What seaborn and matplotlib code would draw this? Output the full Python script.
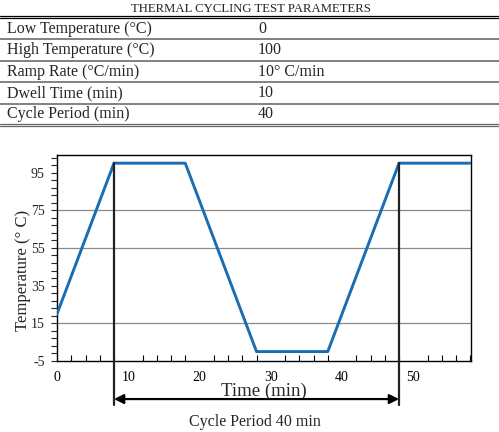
import numpy as np
import pandas as pd
import seaborn as sns
import matplotlib.pyplot as plt
from matplotlib.lines import Line2D
from matplotlib.ticker import MultipleLocator, FixedLocator

# table values
table_title = "THERMAL CYCLING TEST PARAMETERS"
param_names = ["Low Temperature (°C)", "High Temperature (°C)", "Ramp Rate (°C/min)",
               "Dwell Time (min)", "Cycle Period (min)"]
param_values = ["0", "100", "10° C/min", "10", "40"]

# temperature profile
time_min = [0, 8, 18, 28, 38, 48, 58]
temp_c = [20, 100, 100, 0, 0, 100, 100]
y_ticks = [-5, 15, 35, 55, 75, 95]
grid_levels = [15, 55, 75]
cycle_start, cycle_end = 8, 48

sns.set_style("ticks")
plt.rcParams['font.family'] = ['Liberation Serif', 'DejaVu Serif']
plt.rcParams['axes.unicode_minus'] = False

fig = plt.figure(figsize=(4.99, 4.32), dpi=100)
W, H = 499, 432

def fy(py):
    return 1 - py / H

# --- table on top ---
fig.text(251 / W, fy(9), table_title, ha='center', va='center', fontsize=9.2)
for py in [15.5, 18]:
    fig.add_artist(Line2D([0, 1], [fy(py), fy(py)], color='black', lw=0.9))
row_h = 21.4
for i, (name, val) in enumerate(zip(param_names, param_values)):
    yc = 18 + row_h * (i + 0.5)
    fig.text(7 / W, fy(yc), name, ha='left', va='center', fontsize=11.5)
    fig.text(258 / W, fy(yc), val, ha='left', va='center', fontsize=11.5)
    if i < len(param_names) - 1:
        yl = 18 + row_h * (i + 1)
        fig.add_artist(Line2D([0, 1], [fy(yl), fy(yl)], color='#777777', lw=1.3))
for py in [123.5, 125.5]:
    fig.add_artist(Line2D([0, 1], [fy(py), fy(py)], color='#666666', lw=0.9))

# --- chart ---
ax = fig.add_axes([57 / W, 71 / H, 414 / W, 206.3 / H])
df = pd.DataFrame({"Time": time_min, "Temp": temp_c})

for g in grid_levels:
    ax.axhline(g, color='#8a8a8a', lw=0.9, zorder=0)

sns.lineplot(data=df, x="Time", y="Temp", ax=ax, color='#1a6db3', lw=2.1, zorder=3)

ax.set_xlim(0, 58.1)
ax.set_ylim(-5, 104.5)
ax.xaxis.set_major_locator(MultipleLocator(10))
ax.xaxis.set_minor_locator(MultipleLocator(2))
ax.yaxis.set_major_locator(FixedLocator(y_ticks))
ax.yaxis.set_minor_locator(MultipleLocator(4, offset=-5))
ax.tick_params(axis='x', which='both', direction='in', length=4, width=0.8,
               labelsize=10, pad=7, colors='black')
ax.tick_params(axis='x', which='major', length=0)
ax.tick_params(axis='y', which='both', direction='out', length=4, width=0.8,
               labelsize=10, pad=5)
for s in ax.spines.values():
    s.set_linewidth(1.0)
    s.set_color('black')
    s.set_visible(True)

ax.set_xlabel("Time (min)", fontsize=13.5, labelpad=-1)
ax.set_ylabel("Temperature (° C)", fontsize=12)
ax.yaxis.set_label_coords(-0.062, 0.44)

# cycle markers
for t in [cycle_start, cycle_end]:
    ax.plot([t, t], [100, -28.5], color='#222222', lw=1.6, clip_on=False, zorder=4)
ax.annotate("", xy=(cycle_start, -25.2), xytext=(cycle_end, -25.2),
            xycoords='data', textcoords='data', annotation_clip=False,
            arrowprops=dict(arrowstyle='<|-|>', color='black', lw=1.6,
                            mutation_scale=14, shrinkA=0, shrinkB=0))
ax.text((cycle_start + cycle_end) / 2 - 0.2, -37.2, "Cycle Period 40 min",
        ha='center', va='center', fontsize=11.5, clip_on=False)

fig.savefig("out.png", dpi=100)
